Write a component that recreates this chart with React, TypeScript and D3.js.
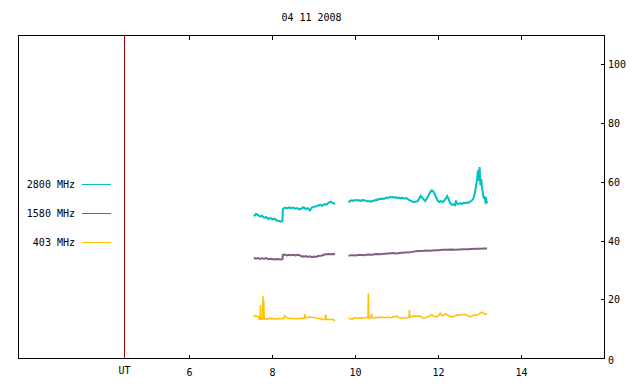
import React from "react";
import * as d3 from "d3";

const title = "04 11 2008";
const xTicks = [6, 8, 10, 12, 14];
const yTicks = [0, 20, 40, 60, 80, 100];
const utHour = 4.434;
const xDomain = [1.88, 16];
const yDomain = [0, 110];

const legendLabels = ["2800 MHz", "1580 MHz", "403 MHz"];
const seriesColors = ["#00c0c0", "#806080", "#ffc000"];

// 2800 MHz
const t2800a = [7.55, 7.6, 7.65, 7.7, 7.75, 7.8, 7.85, 7.9, 7.95, 8.0, 8.05, 8.1, 8.15, 8.2, 8.24, 8.25, 8.3, 8.35, 8.4, 8.45, 8.5, 8.55, 8.6, 8.65, 8.7, 8.75, 8.8, 8.85, 8.9, 8.95, 9.0, 9.05, 9.1, 9.15, 9.2, 9.25, 9.3, 9.35, 9.4, 9.45, 9.51];
const v2800a = [48.4, 49.2, 48.9, 48.3, 48.6, 47.9, 48.2, 47.5, 47.8, 47.4, 47.6, 47.0, 46.9, 46.6, 46.9, 50.9, 51.4, 51.1, 51.5, 51.2, 51.4, 51.0, 51.2, 50.7, 51.1, 51.5, 50.9, 51.2, 50.4, 51.4, 51.7, 51.8, 52.1, 52.3, 52.0, 52.6, 52.4, 53.0, 53.4, 53.0, 52.6];
const t2800b = [9.83, 9.86, 9.9, 9.94, 9.98, 10.02, 10.06, 10.1, 10.14, 10.18, 10.22, 10.26, 10.3, 10.34, 10.38, 10.42, 10.46, 10.5, 10.54, 10.58, 10.62, 10.66, 10.7, 10.74, 10.78, 10.82, 10.86, 10.9, 10.94, 10.98, 11.02, 11.06, 11.1, 11.14, 11.18, 11.22, 11.26, 11.3, 11.34, 11.38, 11.42, 11.46, 11.5, 11.54, 11.57, 11.6, 11.64, 11.68, 11.72, 11.76, 11.8, 11.84, 11.87, 11.9, 11.94, 11.98, 12.02, 12.06, 12.1, 12.14, 12.18, 12.21, 12.24, 12.28, 12.32, 12.36, 12.4, 12.42, 12.44, 12.48, 12.52, 12.56, 12.6, 12.64, 12.68, 12.72, 12.76, 12.8, 12.84, 12.87, 12.9, 12.93, 12.95, 12.97, 12.99, 13.01, 13.03, 13.05, 13.07, 13.09, 13.11, 13.13, 13.15, 13.17];
const v2800b = [53.1, 53.6, 53.9, 53.7, 53.9, 54.0, 53.8, 53.9, 53.7, 54.0, 53.8, 53.7, 53.5, 53.6, 53.4, 53.7, 53.8, 54.1, 54.0, 54.4, 54.3, 54.5, 54.4, 54.8, 54.6, 55.0, 54.9, 55.0, 54.8, 54.9, 54.6, 54.8, 54.5, 54.7, 54.4, 54.6, 54.3, 53.9, 53.7, 53.4, 53.3, 53.5, 53.6, 54.6, 55.4, 54.9, 54.3, 53.6, 54.5, 55.6, 56.7, 57.3, 57.0, 56.3, 55.0, 53.8, 53.3, 53.6, 53.3, 53.8, 54.6, 55.3, 54.4, 53.0, 52.3, 52.5, 52.2, 53.8, 52.8, 52.6, 52.9, 52.6, 53.0, 52.9, 53.1, 53.0, 53.4, 53.7, 54.5, 55.9, 58.4, 61.0, 64.1, 60.5, 65.2, 59.0, 61.2, 58.0, 56.2, 54.5, 55.3, 53.4, 54.1, 52.8];

// 1580 MHz
const t1580a = [7.55, 7.6, 7.65, 7.7, 7.75, 7.8, 7.85, 7.9, 7.95, 8.0, 8.05, 8.1, 8.15, 8.2, 8.24, 8.25, 8.3, 8.35, 8.4, 8.45, 8.5, 8.55, 8.6, 8.65, 8.7, 8.75, 8.8, 8.85, 8.9, 8.95, 9.0, 9.05, 9.1, 9.15, 9.2, 9.25, 9.3, 9.35, 9.4, 9.45, 9.51];
const v1580a = [34.3, 34.0, 34.2, 33.9, 34.1, 34.0, 34.2, 33.8, 34.0, 33.9, 33.7, 33.9, 33.8, 33.7, 33.8, 35.3, 35.4, 35.1, 35.3, 35.2, 35.3, 35.1, 35.3, 35.2, 34.8, 34.7, 34.9, 34.6, 34.8, 34.5, 34.7, 34.6, 34.9, 35.0, 35.1, 35.4, 35.5, 35.6, 35.5, 35.6, 35.5];
const t1580b = [9.83, 9.9, 10.0, 10.1, 10.2, 10.3, 10.4, 10.5, 10.6, 10.7, 10.8, 10.9, 11.0, 11.1, 11.2, 11.3, 11.4, 11.5, 11.6, 11.7, 11.8, 11.9, 12.0, 12.1, 12.2, 12.3, 12.4, 12.5, 12.6, 12.7, 12.8, 12.9, 13.0, 13.1, 13.17];
const v1580b = [35.0, 35.2, 35.1, 35.3, 35.2, 35.4, 35.3, 35.6, 35.5, 35.7, 35.8, 35.9, 35.8, 36.0, 36.1, 36.2, 36.4, 36.6, 36.6, 36.8, 36.7, 36.9, 36.9, 37.0, 37.0, 37.1, 37.0, 37.1, 37.2, 37.2, 37.3, 37.4, 37.4, 37.5, 37.5];

// 403 MHz
const t403a = [7.55, 7.58, 7.62, 7.66, 7.68, 7.7, 7.71, 7.72, 7.76, 7.77, 7.78, 7.79, 7.8, 7.85, 7.9, 7.94, 7.98, 8.05, 8.1, 8.15, 8.2, 8.27, 8.3, 8.33, 8.38, 8.45, 8.5, 8.55, 8.62, 8.7, 8.76, 8.78, 8.8, 8.85, 8.9, 8.95, 9.0, 9.05, 9.1, 9.15, 9.2, 9.27, 9.28, 9.3, 9.4, 9.47, 9.49, 9.51];
const v403a = [14.2, 14.7, 14.4, 14.3, 13.4, 13.3, 18.2, 13.4, 13.5, 21.3, 13.6, 19.6, 13.4, 13.5, 13.3, 13.9, 13.5, 13.6, 13.4, 13.6, 13.5, 13.6, 14.6, 14.0, 13.6, 13.7, 13.5, 13.6, 13.5, 13.7, 13.6, 15.0, 13.9, 14.0, 14.1, 14.0, 14.0, 13.8, 13.6, 13.6, 13.3, 13.3, 14.9, 13.3, 13.3, 13.3, 12.9, 13.0];
const t403b = [9.83, 9.88, 9.92, 9.95, 10.0, 10.05, 10.1, 10.15, 10.2, 10.27, 10.3, 10.31, 10.32, 10.36, 10.39, 10.41, 10.46, 10.52, 10.56, 10.6, 10.65, 10.7, 10.75, 10.8, 10.84, 10.88, 10.92, 10.96, 11.0, 11.04, 11.08, 11.12, 11.16, 11.2, 11.24, 11.29, 11.3, 11.31, 11.36, 11.4, 11.45, 11.5, 11.56, 11.6, 11.64, 11.68, 11.72, 11.76, 11.8, 11.84, 11.88, 11.92, 11.96, 12.0, 12.04, 12.08, 12.12, 12.16, 12.2, 12.24, 12.28, 12.32, 12.36, 12.4, 12.44, 12.48, 12.52, 12.56, 12.6, 12.64, 12.68, 12.72, 12.76, 12.8, 12.84, 12.88, 12.92, 12.96, 13.0, 13.03, 13.06, 13.1, 13.13, 13.17];
const v403b = [13.7, 13.5, 13.4, 13.7, 13.9, 13.6, 13.8, 13.9, 13.7, 14.0, 13.9, 22.2, 13.9, 13.9, 14.9, 13.8, 13.9, 13.9, 14.1, 14.0, 14.1, 13.9, 14.0, 14.1, 13.9, 14.0, 14.4, 14.2, 14.4, 13.9, 13.7, 13.8, 13.9, 13.9, 13.9, 14.0, 16.5, 14.0, 14.3, 14.5, 14.4, 14.5, 14.4, 14.1, 13.7, 13.8, 14.1, 14.3, 14.5, 15.0, 14.4, 14.3, 14.2, 14.6, 15.4, 14.6, 14.7, 15.1, 15.0, 14.6, 14.2, 14.4, 14.2, 14.5, 14.7, 14.8, 14.7, 14.9, 15.0, 15.1, 14.8, 14.5, 14.2, 14.5, 14.7, 14.8, 14.7, 15.0, 15.4, 15.6, 15.8, 15.3, 15.0, 15.4];

const W = 640;
const H = 384;
const FONT = "'DejaVu Sans Mono', monospace";

export default function App() {
  const x = d3.scaleLinear().domain(xDomain).range([18.5, 604.5]);
  const y = d3.scaleLinear().domain(yDomain).range([358.5, 35.5]);
  const line = d3
    .line<[number, number]>()
    .x((d) => x(d[0]))
    .y((d) => y(d[1]));

  const zip = (t: number[], v: number[]) => t.map((ti, i) => [ti, v[i]] as [number, number]);

  const series = [
    { color: seriesColors[2], width: 1.5, segs: [zip(t403a, v403a), zip(t403b, v403b)] },
    { color: seriesColors[1], width: 2, segs: [zip(t1580a, v1580a), zip(t1580b, v1580b)] },
    { color: seriesColors[0], width: 2, segs: [zip(t2800a, v2800a), zip(t2800b, v2800b)] },
  ];

  const [x0, x1] = x.range();
  const [y0, y1] = y.range();

  return (
    <svg
      width={W}
      height={H}
      style={{ position: "absolute", left: 0, top: 0, background: "#fff" }}
      fontFamily={FONT}
      fontSize={10}
    >
      <rect width={W} height={H} fill="#fff" />
      <text x={(x0 + x1) / 2} y={21} textAnchor="middle" fill="#000">
        {title}
      </text>

      <line x1={x(utHour)} x2={x(utHour)} y1={y1} y2={y0} stroke="#a00000" strokeWidth={1} shapeRendering="crispEdges" />

      {series.map((s, i) =>
        s.segs.map((seg, j) => (
          <path key={`${i}-${j}`} d={line(seg) || ""} fill="none" stroke={s.color} strokeWidth={s.width} strokeLinejoin="miter" />
        ))
      )}

      <rect x={x0} y={y1} width={x1 - x0} height={y0 - y1} fill="none" stroke="#000" strokeWidth={1} shapeRendering="crispEdges" />

      {xTicks.map((t) => (
        <g key={t}>
          <line x1={x(t)} x2={x(t)} y1={y0} y2={y0 - 4} stroke="#000" shapeRendering="crispEdges" />
          <line x1={x(t)} x2={x(t)} y1={y1} y2={y1 + 4} stroke="#000" shapeRendering="crispEdges" />
          <text x={x(t)} y={376} textAnchor="middle" fill="#000">
            {t}
          </text>
        </g>
      ))}
      <text x={x(utHour)} y={374} textAnchor="middle" fill="#000">
        UT
      </text>

      {yTicks.map((t) => (
        <g key={t}>
          {t > 0 && <line x1={x1} x2={x1 - 4} y1={y(t)} y2={y(t)} stroke="#000" shapeRendering="crispEdges" />}
          <text x={608} y={y(t) + (t === 0 ? 5 : 3.5)} textAnchor="start" fill="#000">
            {t}
          </text>
        </g>
      ))}

      {legendLabels.map((lab, i) => (
        <g key={lab}>
          <text x={75} y={188 + i * 29} textAnchor="end" fill="#000">
            {lab}
          </text>
          <line x1={82} x2={111} y1={184.5 + i * 29} y2={184.5 + i * 29} stroke={seriesColors[i]} strokeWidth={1} />
        </g>
      ))}
    </svg>
  );
}
